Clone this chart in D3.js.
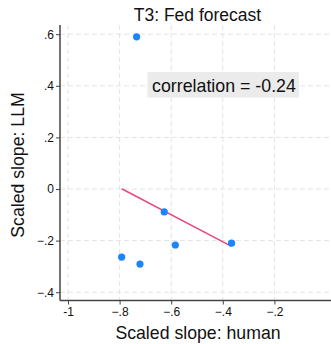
<!DOCTYPE html>
<html>
<head>
<meta charset="utf-8">
<script src="https://cdn.jsdelivr.net/npm/d3@7"></script>
<style>
  body { margin: 0; background: #fff; }
  text { font-family: "Liberation Sans", Arial, sans-serif; fill: #111; }
</style>
</head>
<body>
<div id="chart-area"></div>
<script>
// scaled slopes, one point per item
let humanSlope = [-0.734, -0.627, -0.584, -0.366, -0.792, -0.721];
let llmSlope   = [0.590, -0.089, -0.217, -0.210, -0.264, -0.291];
let xTicks = [-1, -0.8, -0.6, -0.4, -0.2];
let yTicks = [-0.4, -0.2, 0, 0.2, 0.4, 0.6];
let titleText = "T3: Fed forecast";

let width = 331, height = 344;

let svg = d3.select("#chart-area").append("svg")
    .attr("width", width)
    .attr("height", height);

let x = d3.scaleLinear()
    .domain([-1, 0])
    .range([68, 326]);

let y = d3.scaleLinear()
    .domain([0, 0.6])
    .range([189, 34.2]);

let plotLeft = 60, plotTop = 25, plotBottom = 300.5;

// stata style labels: .6, -.2, 0, -1
let fmt = d => d == 0 ? "0" : d == -1 ? "-1" : d3.format(".1f")(d).replace("0.", ".");

// grid
let grid = svg.append("g").attr("stroke", "#e4e4e4").attr("stroke-dasharray", "5,3").attr("stroke-width", 1);
grid.selectAll(".gx").data(xTicks).enter().append("line")
    .attr("x1", d => x(d)).attr("x2", d => x(d))
    .attr("y1", plotTop).attr("y2", plotBottom);
grid.selectAll(".gy").data(yTicks).enter().append("line")
    .attr("x1", plotLeft).attr("x2", width)
    .attr("y1", d => y(d)).attr("y2", d => y(d));

// axes
let xAxis = d3.axisBottom(x).tickValues(xTicks).tickFormat(fmt).tickSize(4).tickPadding(3);
let yAxis = d3.axisLeft(y).tickValues(yTicks).tickFormat(fmt).tickSize(4).tickPadding(2);

let xAxisGroup = svg.append("g")
    .attr("transform", "translate(0," + plotBottom + ")")
    .call(xAxis);
xAxisGroup.select(".domain").attr("d", "M" + plotLeft + ",0H" + width);

let yAxisGroup = svg.append("g")
    .attr("transform", "translate(" + plotLeft + ",0)")
    .call(yAxis);
yAxisGroup.select(".domain").attr("d", "M0," + plotTop + "V" + plotBottom);

svg.selectAll(".domain").attr("stroke", "#444").attr("stroke-width", 1.5);
svg.selectAll(".tick line").attr("stroke", "#444");
svg.selectAll(".tick text").attr("font-size", 12).attr("fill", "#111")
    .style("font-family", "'Liberation Sans', Arial, sans-serif");

// fitted line from least squares
let mx = d3.mean(humanSlope), my = d3.mean(llmSlope);
let sxy = d3.sum(humanSlope, (d, i) => (d - mx) * (llmSlope[i] - my));
let sxx = d3.sum(humanSlope, d => (d - mx) * (d - mx));
let syy = d3.sum(llmSlope, d => (d - my) * (d - my));
let slope = sxy / sxx, icpt = my - slope * mx;
let r = sxy / Math.sqrt(sxx * syy);
let ext = d3.extent(humanSlope);

svg.append("line")
    .attr("x1", x(ext[0])).attr("y1", y(icpt + slope * ext[0]))
    .attr("x2", x(ext[1])).attr("y2", y(icpt + slope * ext[1]))
    .attr("stroke", "#e8497e")
    .attr("stroke-width", 1.5);

// points
svg.selectAll(".dot")
    .data(humanSlope)
    .enter().append("circle")
    .attr("class", "dot")
    .attr("cx", d => x(d))
    .attr("cy", (d, i) => y(llmSlope[i]))
    .attr("r", 3.6)
    .attr("fill", "#1a85ff");

// correlation box
svg.append("rect")
    .attr("x", 147.5).attr("y", 72)
    .attr("width", 151.5).attr("height", 25.5)
    .attr("fill", "#ebebeb");
svg.append("text")
    .attr("x", 224).attr("y", 91.5)
    .attr("text-anchor", "middle")
    .attr("font-size", 17.8)
    .text("correlation = " + r.toFixed(2));

// title and axis titles
svg.append("text")
    .attr("x", 197.5).attr("y", 21)
    .attr("text-anchor", "middle")
    .attr("font-size", 17.5)
    .text(titleText);

svg.append("text")
    .attr("x", 198).attr("y", 338.5)
    .attr("text-anchor", "middle")
    .attr("font-size", 17.7)
    .text("Scaled slope: human");

svg.append("text")
    .attr("transform", "translate(23.5,165) rotate(-90)")
    .attr("text-anchor", "middle")
    .attr("font-size", 17.7)
    .text("Scaled slope: LLM");
</script>
</body>
</html>
